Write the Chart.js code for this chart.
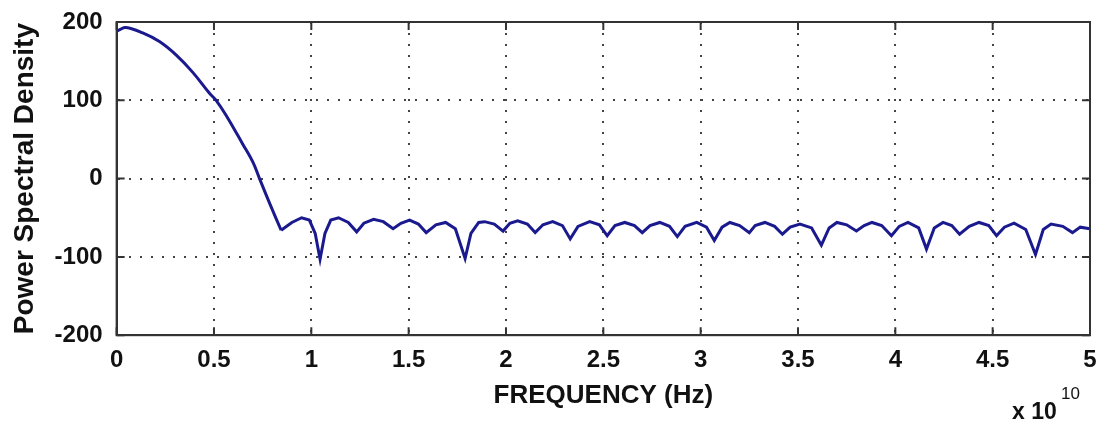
<!DOCTYPE html>
<html>
<head>
<meta charset="utf-8">
<script src="https://cdn.jsdelivr.net/npm/chart.js@4/dist/chart.umd.min.js"></script>
<style>
  html, body { margin: 0; padding: 0; background: #fff; }
  #wrap { width: 1097px; height: 423px; }
</style>
</head>
<body>
<div id="wrap"><canvas id="psdChart"></canvas></div>
<script>
// frequency in units of 1e10 Hz
var freqs = [
  0.00, 0.014, 0.048, 0.134, 0.22, 0.305, 0.39, 0.477, 0.511, 0.562, 0.648, 0.70, 0.734, 0.785, 0.845,
  0.90, 0.95, 0.99, 1.02, 1.045, 1.07, 1.10, 1.14, 1.19, 1.233, 1.27, 1.32, 1.37, 1.42, 1.46,
  1.505, 1.55, 1.59, 1.64, 1.69, 1.74, 1.79, 1.82, 1.86, 1.89, 1.94, 1.985, 2.02, 2.06, 2.11,
  2.15, 2.19, 2.24, 2.29, 2.33, 2.37, 2.43, 2.48, 2.52, 2.56, 2.61, 2.66, 2.70, 2.74, 2.79,
  2.84, 2.88, 2.92, 2.98, 3.03, 3.07, 3.11, 3.15, 3.20, 3.25, 3.28, 3.33, 3.38, 3.42, 3.46,
  3.51, 3.57, 3.62, 3.66, 3.70, 3.75, 3.80, 3.84, 3.88, 3.93, 3.98, 4.02, 4.065, 4.12, 4.16,
  4.20, 4.245, 4.29, 4.33, 4.38, 4.43, 4.48, 4.52, 4.56, 4.61, 4.67, 4.72, 4.76, 4.80, 4.86,
  4.91, 4.95, 5.00
];
var psd = [
  188, 190, 193, 186, 175, 158, 136, 109, 100, 81, 44, 21, 0, -31, -66,
  -56, -50, -53, -70, -103, -70, -53, -50, -56, -68, -57, -52, -55, -64, -57,
  -53, -58, -69, -59, -56, -64, -102, -70, -56, -55, -58, -67, -57, -54, -58,
  -69, -59, -55, -60, -77, -61, -55, -59, -73, -60, -56, -60, -69, -60, -56,
  -61, -74, -61, -56, -62, -79, -62, -56, -60, -69, -60, -56, -61, -71, -62,
  -58, -63, -85, -63, -56, -59, -67, -60, -56, -60, -73, -61, -56, -63, -90,
  -63, -56, -60, -71, -61, -56, -60, -73, -62, -57, -65, -97, -65, -58, -61,
  -69, -62, -64
];
var xTickValues = [0, 0.5, 1, 1.5, 2, 2.5, 3, 3.5, 4, 4.5, 5];
var yTickValues = [-200, -100, 0, 100, 200];

var FONT = "'Liberation Sans', Arial, Helvetica, sans-serif";

// main lobe ends at the first null (index 14); drawn smooth, side lobes keep their cusps
var LOBE_END = 14;
var points = freqs.map(function (f, i) { return { x: f, y: psd[i] }; });
var mainLobe = points.slice(0, LOBE_END + 1);
var sideLobes = points.slice(LOBE_END);

var matlabBox = {
  id: 'matlabBox',
  afterDraw: function (chart) {
    var ctx = chart.ctx, a = chart.chartArea;
    var xs = chart.scales.x, ys = chart.scales.y;
    ctx.save();
    ctx.strokeStyle = '#333';
    ctx.lineWidth = 2;
    ctx.strokeRect(a.left, a.top, a.right - a.left, a.bottom - a.top);
    ctx.beginPath();
    xTickValues.forEach(function (v) {
      var px = xs.getPixelForValue(v);
      ctx.moveTo(px, a.bottom); ctx.lineTo(px, a.bottom - 8);
      ctx.moveTo(px, a.top); ctx.lineTo(px, a.top + 8);
    });
    yTickValues.forEach(function (v) {
      var py = ys.getPixelForValue(v);
      ctx.moveTo(a.left, py); ctx.lineTo(a.left + 8, py);
      ctx.moveTo(a.right, py); ctx.lineTo(a.right - 8, py);
    });
    ctx.stroke();
    // exponent label
    ctx.fillStyle = '#111';
    ctx.textBaseline = 'alphabetic';
    ctx.textAlign = 'left';
    ctx.font = 'bold 23px ' + FONT;
    ctx.fillText('x 10', a.right - 78, 419);
    ctx.font = '17px ' + FONT;
    ctx.fillText('10', a.right - 29, 399);
    ctx.restore();
  }
};

var lineStyle = {
  showLine: true,
  borderColor: '#1a1a8e',
  borderWidth: 3,
  pointRadius: 0
};

new Chart(document.getElementById('psdChart'), {
  type: 'scatter',
  data: {
    datasets: [
      Object.assign({ label: 'main lobe', data: mainLobe, tension: 0.4 }, lineStyle),
      Object.assign({ label: 'side lobes', data: sideLobes, tension: 0 }, lineStyle)
    ]
  },
  options: {
    animation: false,
    responsive: true,
    maintainAspectRatio: false,
    layout: { padding: { left: 8, right: 7, top: 22, bottom: 14 } },
    plugins: {
      legend: { display: false },
      tooltip: { enabled: false }
    },
    scales: {
      x: {
        type: 'linear',
        min: 0,
        max: 5,
        afterBuildTicks: function (axis) {
          axis.ticks = xTickValues.map(function (v) { return { value: v }; });
        },
        ticks: {
          color: '#111',
          padding: 0,
          maxRotation: 0,
          font: { family: FONT, size: 24, weight: 'bold' },
          callback: function (v) { return String(v); }
        },
        // invisible outer ticks only space the labels from the axis
        grid: { color: '#444', lineWidth: 2, drawTicks: true, tickLength: 11, tickColor: 'rgba(0,0,0,0)' },
        border: { display: true, color: '#333', width: 2, dash: [2, 9] },
        title: {
          display: true,
          text: 'FREQUENCY (Hz)',
          color: '#111',
          padding: { top: 8, bottom: 0 },
          font: { family: FONT, size: 26, weight: 'bold', lineHeight: 1.0 }
        }
      },
      y: {
        type: 'linear',
        min: -200,
        max: 200,
        afterBuildTicks: function (axis) {
          axis.ticks = yTickValues.map(function (v) { return { value: v }; });
        },
        ticks: {
          color: '#111',
          padding: 0,
          font: { family: FONT, size: 24, weight: 'bold' },
          callback: function (v) { return String(v); }
        },
        grid: { color: '#444', lineWidth: 2, drawTicks: true, tickLength: 14, tickColor: 'rgba(0,0,0,0)' },
        border: { display: true, color: '#333', width: 2, dash: [2, 9] },
        title: {
          display: true,
          text: 'Power Spectral Density',
          color: '#111',
          padding: { top: 0, bottom: 13 },
          font: { family: FONT, size: 28, weight: 'bold' }
        }
      }
    }
  },
  plugins: [matlabBox]
});
</script>
</body>
</html>
